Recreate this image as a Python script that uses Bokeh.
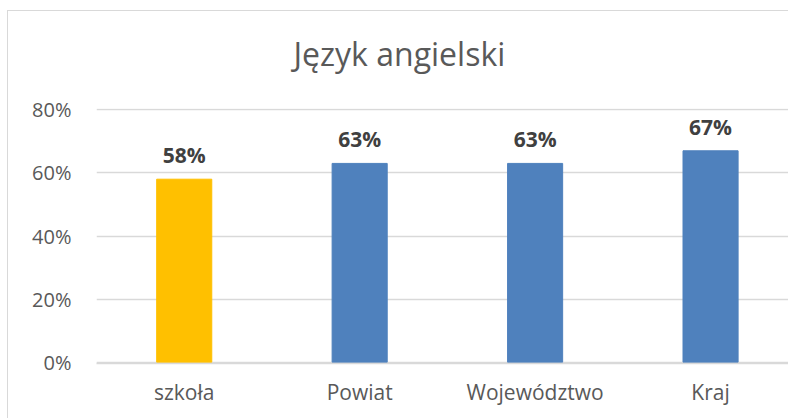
from bokeh.plotting import figure
from bokeh.models import (ColumnDataSource, Range1d, FixedTicker, NumeralTickFormatter,
                          Title, InlineStyleSheet)
from bokeh.core.properties import value
from bokeh.embed import file_html
from bokeh.resources import INLINE

categories = ["szkoła", "Powiat", "Województwo", "Kraj"]
values = [0.58, 0.63, 0.63, 0.67]
bar_colors = ["#FFC000", "#4F81BD", "#4F81BD", "#4F81BD"]
y_ticks = [0.0, 0.2, 0.4, 0.6, 0.8]
title_text = "Język angielski"

xpos = list(range(len(categories)))
src = ColumnDataSource(dict(
    x=xpos, top=values, color=bar_colors,
    label=[f"{round(v * 100)}%" for v in values],
))

FONT = "Open Sans"
TXT = "#595959"

p = figure(width=781, height=408, output_backend="svg", toolbar_location=None,
           x_range=Range1d(-0.5, 3.45), y_range=Range1d(-0.004, 0.804),
           min_border_left=88, min_border_right=0, min_border_top=0,
           min_border_bottom=56)
p.margin = (10, 0, 0, 7)
p.stylesheets = [InlineStyleSheet(css=":host { border-left: 1px solid #D9D9D9; border-top: 1px solid #D9D9D9; }")]
p.outline_line_color = None
p.background_fill_color = "white"
p.border_fill_color = "white"

p.vbar(x="x", top="top", bottom=0, width=0.314, color="color", source=src)
p.text(x="x", y="top", text="label", source=src, text_align="center",
       text_baseline="alphabetic", y_offset=-24, text_font=value(FONT),
       text_font_size="21px", text_font_style="bold", text_color="#404040")

# title with spacers
p.add_layout(Title(text=" ", text_font_size="16px"), "above")
p.add_layout(Title(text=title_text, align="left", offset=197, text_font=FONT,
                   text_font_size="32px", text_font_style="normal",
                   text_color=TXT), "above")
p.add_layout(Title(text=" ", text_font_size="1px"), "above")

p.xgrid.visible = False
p.ygrid.ticker = FixedTicker(ticks=y_ticks)
p.ygrid.grid_line_color = "#D9D9D9"
p.ygrid.grid_line_width = 1.5

p.yaxis.ticker = FixedTicker(ticks=y_ticks)
p.yaxis.formatter = NumeralTickFormatter(format="0%")
p.yaxis.axis_line_color = None
p.yaxis.major_tick_line_color = None
p.yaxis.minor_tick_line_color = None
p.yaxis.major_label_standoff = 19
p.yaxis.major_label_text_font = FONT
p.yaxis.major_label_text_font_size = "20px"
p.yaxis.major_label_text_color = TXT

p.xaxis.ticker = FixedTicker(ticks=xpos)
p.xaxis.major_label_overrides = {i: c for i, c in zip(xpos, categories)}
p.xaxis.axis_line_color = "#D9D9D9"
p.xaxis.axis_line_width = 1.5
p.xaxis.major_tick_line_color = None
p.xaxis.minor_tick_line_color = None
p.xaxis.major_label_standoff = 8
p.xaxis.major_label_text_font = FONT
p.xaxis.major_label_text_font_size = "21px"
p.xaxis.major_label_text_color = TXT

open("out.html", "w").write(file_html(p, INLINE))
